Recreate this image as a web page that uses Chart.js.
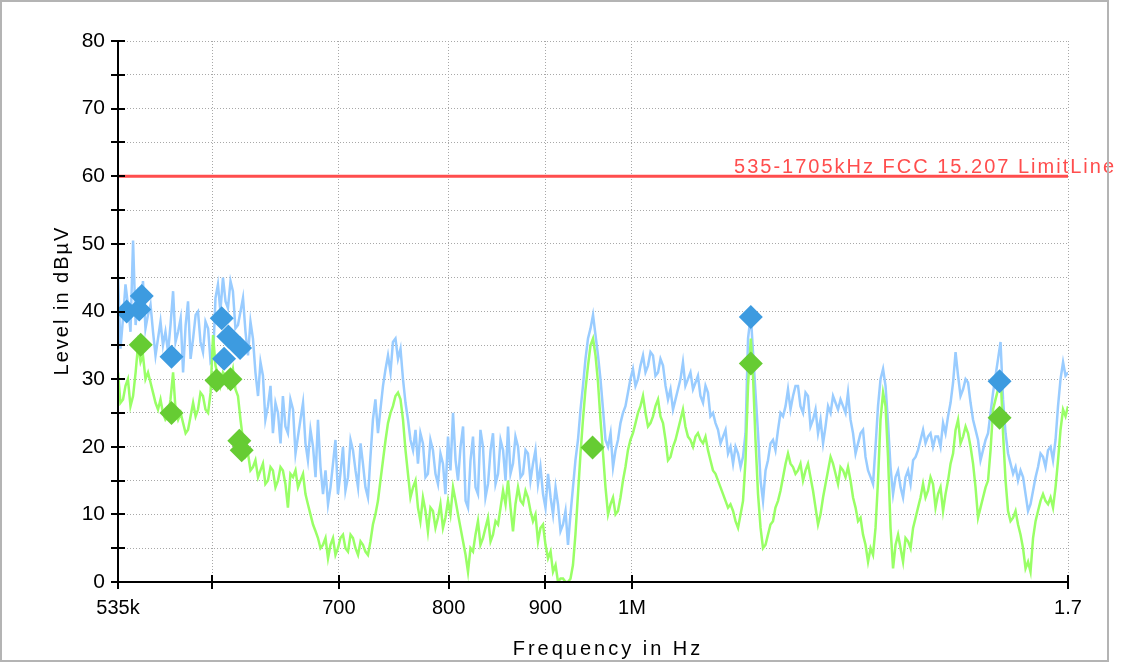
<!DOCTYPE html>
<html>
<head>
<meta charset="utf-8">
<title>Conducted emission scan</title>
<script src="https://cdn.jsdelivr.net/npm/chart.js@4.4.1/dist/chart.umd.min.js"></script>
<style>
  html, body { margin: 0; padding: 0; background: #fff; }
  #scan { display: block; width: 1121px; height: 664px; }
</style>
</head>
<body>
<canvas id="scan" width="1121" height="664"></canvas>
<script>
// sweep frequencies in kHz
const freqKHz = [
  535.0, 536.6, 538.3, 539.9, 541.5, 543.2, 544.9, 546.6, 548.2, 549.9, 551.5, 553.2, 554.9, 556.6, 558.3, 560.0, 561.7, 563.4, 565.1, 566.8,
  568.6, 570.3, 572.1, 573.8, 575.6, 577.4, 579.1, 580.9, 582.6, 584.4, 586.2, 588.0, 589.7, 591.5, 593.3, 595.1, 597.0, 598.8, 600.6, 602.4,
  604.2, 606.0, 607.9, 609.8, 611.6, 613.5, 615.3, 617.2, 619.1, 621.0, 622.9, 624.8, 626.7, 628.6, 630.5, 632.4, 634.4, 636.3, 638.2, 640.1,
  642.1, 644.1, 646.0, 648.0, 650.0, 652.0, 653.9, 655.9, 657.9, 659.9, 662.0, 664.0, 666.0, 668.0, 670.1, 672.1, 674.1, 676.2, 678.3, 680.4,
  682.4, 684.5, 686.6, 688.7, 690.8, 692.9, 695.0, 697.1, 699.2, 701.3, 703.5, 705.6, 707.8, 710.0, 712.1, 714.3, 716.5, 718.7, 720.8, 723.0,
  725.2, 727.4, 729.6, 731.8, 734.1, 736.3, 738.6, 740.9, 743.1, 745.4, 747.6, 749.9, 752.2, 754.5, 756.8, 759.1, 761.4, 763.7, 766.1, 768.4,
  770.7, 773.0, 775.4, 777.8, 780.1, 782.5, 784.9, 787.3, 789.7, 792.1, 794.5, 796.9, 799.4, 801.8, 804.3, 806.8, 809.2, 811.7, 814.2, 816.7,
  819.1, 821.6, 824.1, 826.6, 829.1, 831.6, 834.2, 836.7, 839.3, 841.9, 844.4, 847.0, 849.6, 852.2, 854.8, 857.4, 860.0, 862.6, 865.2, 867.8,
  870.5, 873.2, 875.8, 878.5, 881.1, 883.8, 886.5, 889.2, 891.9, 894.6, 897.4, 900.1, 902.9, 905.7, 908.4, 911.2, 913.9, 916.7, 919.5, 922.3,
  925.1, 927.9, 930.7, 933.5, 936.4, 939.3, 942.1, 945.0, 947.9, 950.8, 953.7, 956.6, 959.5, 962.4, 965.4, 968.3, 971.3, 974.3, 977.2, 980.2,
  983.1, 986.1, 989.1, 992.1, 995.1, 998.1, 1001.2, 1004.3, 1007.3, 1010.4, 1013.5, 1016.6, 1019.7, 1022.8, 1025.9, 1029.0, 1032.2, 1035.3, 1038.5, 1041.7,
  1044.8, 1048.0, 1051.2, 1054.4, 1057.6, 1060.8, 1064.0, 1067.2, 1070.5, 1073.8, 1077.1, 1080.4, 1083.6, 1086.9, 1090.3, 1093.6, 1096.9, 1100.2, 1103.6, 1107.0,
  1110.4, 1113.8, 1117.2, 1120.6, 1124.0, 1127.4, 1130.9, 1134.3, 1137.8, 1141.3, 1144.7, 1148.2, 1151.7, 1155.6, 1158.7, 1162.2, 1165.8, 1169.4, 1172.9, 1176.5,
  1180.0, 1183.6, 1187.2, 1190.8, 1194.5, 1198.1, 1201.8, 1205.5, 1209.1, 1212.8, 1216.5, 1220.2, 1223.9, 1227.6, 1231.4, 1235.2, 1238.9, 1242.7, 1246.5, 1250.3,
  1254.1, 1257.9, 1261.8, 1265.6, 1269.5, 1273.4, 1277.2, 1281.1, 1285.0, 1288.9, 1292.9, 1296.8, 1300.7, 1304.7, 1308.7, 1312.7, 1316.7, 1320.7, 1324.7, 1328.7,
  1332.8, 1336.9, 1340.9, 1345.0, 1349.1, 1353.2, 1357.4, 1361.5, 1365.6, 1369.8, 1374.0, 1378.2, 1382.4, 1386.6, 1390.8, 1395.0, 1399.3, 1403.6, 1407.9, 1412.2,
  1416.4, 1420.7, 1425.1, 1429.4, 1433.7, 1438.1, 1442.5, 1446.9, 1451.3, 1455.7, 1460.2, 1464.6, 1469.1, 1473.6, 1478.1, 1482.6, 1487.1, 1491.6, 1496.2, 1500.8,
  1505.3, 1509.9, 1514.5, 1519.1, 1523.7, 1528.3, 1533.0, 1537.7, 1542.4, 1547.1, 1551.8, 1556.5, 1561.3, 1566.0, 1570.8, 1575.6, 1580.4, 1585.2, 1590.1, 1594.9,
  1599.7, 1604.6, 1609.5, 1614.4, 1619.3, 1624.2, 1629.2, 1634.2, 1639.1, 1644.1, 1649.1, 1654.1, 1659.2, 1664.3, 1669.3, 1674.4, 1679.5, 1684.6, 1689.8, 1694.9,
  1700.0
];

// peak detector trace, dBuV
const peakLevel = [
  45.5, 34.5, 39.0, 44.0, 41.0, 37.0, 50.5, 38.0, 42.0, 39.0, 44.5, 37.5, 39.5, 41.0, 37.0, 33.5, 36.0, 38.5, 35.0, 37.0,
  34.0, 38.0, 43.0, 35.5, 37.0, 39.0, 31.0, 38.0, 41.5, 33.0, 36.0, 39.5, 40.0, 35.5, 34.0, 38.5, 37.5, 32.5, 33.0, 42.0,
  44.0, 40.0, 45.0, 41.5, 40.5, 44.5, 43.0, 37.5, 38.0, 40.0, 42.0, 37.0, 33.5, 38.5, 36.0, 31.0, 27.5, 32.5, 30.5, 24.0,
  26.0, 29.0, 22.0, 26.5, 25.0, 20.5, 27.5, 23.0, 22.0, 27.0, 25.5, 19.0, 21.5, 24.0, 26.5, 20.5, 18.0, 22.5, 20.0, 15.5,
  24.0, 17.0, 13.0, 16.5, 11.5, 14.0, 17.5, 21.0, 13.0, 16.0, 20.0, 13.5, 15.5, 21.0, 19.5, 16.5, 14.0, 20.5, 17.5, 14.0,
  12.5, 18.5, 24.0, 27.0, 22.0, 25.5, 29.0, 31.5, 33.5, 31.0, 35.5, 36.0, 33.0, 34.5, 30.0, 26.5, 24.0, 21.0, 19.5, 22.5,
  17.5, 22.0, 20.5, 15.5, 16.0, 21.0, 19.5, 16.0, 14.5, 19.0, 17.5, 13.0, 21.5, 16.5, 25.0, 18.0, 15.0, 20.0, 23.0, 12.0,
  11.0, 18.0, 21.5, 14.0, 13.0, 22.5, 20.0, 12.5, 14.5, 19.5, 22.0, 14.5, 16.0, 21.0, 19.5, 15.0, 23.0, 16.0, 17.5, 21.5,
  20.0, 15.5, 16.0, 19.5, 19.0, 15.0, 17.5, 19.5, 14.5, 17.0, 13.0, 11.0, 16.0, 12.5, 10.0, 14.0, 11.5, 7.5, 8.5, 10.5,
  5.5, 10.0, 14.0, 18.0, 21.0, 25.5, 29.0, 33.0, 36.0, 37.5, 39.5, 36.5, 33.5, 30.0, 25.5, 21.0, 20.0, 22.0, 17.0, 19.5,
  21.0, 23.5, 25.0, 26.0, 28.0, 30.0, 31.5, 29.0, 30.0, 32.0, 33.5, 31.0, 32.0, 34.0, 33.5, 30.5, 31.0, 33.0, 32.0, 29.0,
  27.0, 28.5, 25.5, 27.0, 28.5, 30.0, 32.5, 29.0, 30.0, 31.0, 28.5, 29.5, 30.5, 27.5, 26.5, 29.0, 28.0, 24.5, 25.0, 23.5,
  22.5, 20.5, 21.5, 22.5, 19.0, 20.0, 17.5, 20.0, 19.0, 17.0, 18.5, 22.0, 36.0, 39.5, 34.0, 28.0, 22.0, 15.0, 12.0, 16.5,
  18.0, 20.5, 21.0, 19.5, 22.5, 25.0, 24.5, 26.0, 28.5, 25.5, 27.5, 29.0, 29.0, 26.0, 25.0, 28.0, 27.5, 23.0, 24.0, 25.5,
  22.0, 24.0, 20.5, 23.0, 26.0, 25.0, 27.5, 26.5, 25.5, 27.0, 26.0, 25.0, 28.0, 24.0, 22.0, 19.0, 20.5, 22.0, 22.5, 18.5,
  16.5, 15.5, 14.5, 20.0, 26.0, 30.0, 31.5, 29.0, 23.5, 17.0, 13.0, 15.5, 16.5, 14.0, 12.5, 15.5, 16.5, 14.5, 18.0, 18.5,
  19.5, 21.0, 22.5, 20.5, 21.5, 22.0, 20.0, 21.5, 21.5, 20.0, 23.5, 22.0, 24.5, 26.5, 29.5, 34.0, 30.5, 27.5, 28.5, 30.0,
  29.5, 26.5, 24.0, 22.5, 21.0, 18.0, 19.5, 21.0, 22.0, 25.0, 28.0, 30.5, 33.0, 35.5, 27.0, 22.0, 19.0, 17.5, 16.0, 17.0,
  15.0, 16.5, 15.5, 13.0, 10.5, 11.5, 13.5, 15.5, 17.0, 19.0, 18.5, 17.0, 19.5, 20.0, 18.0, 21.0, 26.0, 30.0, 32.5, 30.5,
  31.0
];

// average detector trace, dBuV
const avgLevel = [
  31.0, 26.5, 27.0, 29.0, 30.0, 26.0, 27.5, 31.0, 35.0, 32.5, 33.5, 30.0, 31.0, 29.5, 28.0, 26.5, 25.5, 27.0, 25.0, 24.0,
  24.5, 27.0, 31.0, 25.5, 24.0, 25.0, 23.5, 22.0, 22.5, 24.5, 26.5, 24.5, 25.5, 28.0, 27.5, 25.5, 25.0, 28.0, 36.5, 32.0,
  30.5, 29.0, 31.0, 30.5, 29.0, 30.0, 31.5, 28.5, 27.5, 24.0, 21.0, 18.5, 19.0, 16.5, 17.0, 18.0, 15.5, 16.5, 17.5, 14.5,
  15.0, 17.0, 16.5, 14.0, 15.0, 17.0, 16.5, 14.5, 11.0, 16.0, 15.5, 16.5, 14.0, 15.0, 16.0, 13.0, 11.5, 10.0, 8.5, 7.5,
  6.5, 5.0, 5.5, 6.5, 3.5, 5.5, 6.5, 4.0, 5.0, 6.5, 7.0, 5.0, 4.5, 7.0, 6.5, 5.0, 4.0, 6.0, 5.5, 4.5,
  4.0, 6.0, 8.5, 10.0, 12.0, 15.0, 18.0, 21.0, 23.5, 25.0, 26.0, 27.5, 28.0, 27.0, 24.0, 19.5, 16.0, 12.5, 14.0, 15.0,
  11.0, 9.0, 12.5, 10.5, 7.5, 11.0, 10.5, 8.0, 9.5, 11.5, 8.0, 9.5, 12.0, 10.0, 14.0, 12.0, 10.0, 8.0, 6.0, 4.0,
  1.5, 5.0, 4.5, 7.0, 9.0, 5.5, 6.5, 8.0, 9.5, 6.0, 7.0, 9.0, 8.5, 11.0, 13.5, 11.5, 15.0, 11.0, 7.5, 11.5,
  14.0, 12.0, 11.5, 13.5, 12.5, 10.5, 9.0, 10.0, 6.0, 8.0, 8.5, 5.5, 3.5, 4.5, 1.5, 2.5, 0.0, 0.5, 0.5, 0.0,
  0.0, 0.5, 2.5, 7.0, 13.0, 19.0, 24.0, 28.5, 32.0, 35.0, 36.0, 33.5, 29.5, 24.0, 19.0, 14.0, 10.0, 11.5, 12.5, 10.0,
  10.5, 12.5, 15.0, 17.0, 19.5, 21.0, 22.0, 23.5, 25.0, 26.0, 27.5, 25.0, 23.0, 23.5, 24.5, 26.0, 27.0, 24.5, 23.5, 21.0,
  18.0, 18.5, 20.0, 21.0, 22.5, 24.0, 25.5, 23.0, 21.5, 21.0, 20.0, 21.5, 22.0, 21.0, 20.5, 21.5, 19.5, 18.0, 16.5, 16.0,
  15.0, 14.0, 13.0, 12.0, 11.0, 11.5, 10.5, 9.0, 8.0, 10.0, 12.0, 18.0, 29.0, 36.0, 30.5, 21.0, 13.0, 8.0, 5.0, 5.5,
  7.0, 8.5, 9.0, 11.0, 12.0, 13.5, 15.5, 17.5, 19.0, 17.5, 17.0, 16.0, 16.5, 17.5, 15.0, 16.5, 17.5, 15.5, 13.5, 11.0,
  8.5, 10.0, 12.5, 14.5, 16.5, 18.5, 17.5, 16.0, 14.5, 17.0, 16.5, 15.5, 17.0, 15.0, 12.5, 11.0, 9.0, 9.5, 7.0, 5.5,
  3.0, 5.0, 4.0, 8.0, 15.0, 24.0, 28.0, 26.0, 18.5, 8.0, 2.0, 5.5, 7.0, 5.0, 3.0, 6.5, 6.0, 5.0, 8.0, 9.5,
  11.0, 12.5, 14.5, 12.5, 13.5, 15.5, 14.5, 11.0, 13.0, 14.0, 10.5, 13.0, 15.0, 17.5, 19.0, 22.5, 24.0, 20.5, 21.5, 23.0,
  22.0, 20.0, 17.5, 14.0, 9.5, 11.0, 12.5, 14.0, 15.0, 19.5, 25.5, 27.0, 28.5, 31.0, 22.0, 15.0, 10.5, 9.0, 9.5, 10.5,
  8.5, 7.0, 5.0, 2.0, 3.0, 1.5, 6.5, 9.0, 10.5, 12.0, 13.0, 12.0, 11.5, 12.5, 11.0, 14.0, 18.0, 22.5, 25.5, 24.5,
  26.0
];

// final measurement markers
const peakMarkFreq = [540.7, 549.0, 550.7, 571.0, 607.0, 608.7, 611.9, 620.7, 1155.6, 1564.1];
const peakMarkLevel = [40.0, 40.3, 42.3, 33.3, 39.0, 33.0, 36.3, 34.6, 39.2, 29.7];
const avgMarkFreq = [550.0, 571.0, 603.2, 613.5, 620.1, 621.9, 953.2, 1155.6, 1564.1];
const avgMarkLevel = [35.1, 25.0, 29.8, 30.0, 20.9, 19.5, 19.9, 32.3, 24.3];

// FCC 15.207 limit
const limitFreq = [535, 1700];
const limitLevel = [60, 60];
const limitName = '535-1705kHz FCC 15.207 LimitLine';

const xTickValues = [535, 600, 700, 800, 900, 1000, 1700];
const xTickLabels = ['535k', '', '700', '800', '900', '1M', '1.7'];

const toPoints = (xs, ys) => xs.map((f, i) => ({ x: f, y: ys[i] }));

Chart.defaults.font.family = '"Liberation Sans", Arial, sans-serif';
Chart.defaults.color = '#000';

// axis lines, crossing tick marks, titles, limit label and outer frame
const axisDecor = {
  id: 'axisDecor',
  afterDraw(chart) {
    const { ctx, chartArea: a, scales: { x, y } } = chart;
    const left = Math.round(a.left), bottom = Math.round(a.bottom);
    ctx.save();
    ctx.strokeStyle = '#000';
    ctx.lineWidth = 2;
    ctx.beginPath();
    ctx.moveTo(left, Math.round(a.top) - 1);
    ctx.lineTo(left, bottom + 7);
    ctx.moveTo(left - 1, bottom);
    ctx.lineTo(Math.round(a.right), bottom);
    y.ticks.forEach(t => {
      const py = Math.round(y.getPixelForValue(t.value));
      ctx.moveTo(left - 7, py);
      ctx.lineTo(left + 7, py);
    });
    x.ticks.forEach(t => {
      const px = Math.round(x.getPixelForValue(t.value));
      ctx.moveTo(px, bottom - 7);
      ctx.lineTo(px, bottom + 7);
    });
    ctx.stroke();

    ctx.fillStyle = '#000';
    ctx.font = '20px "Liberation Sans", Arial, sans-serif';
    ctx.textBaseline = 'alphabetic';
    ctx.textAlign = 'center';
    ctx.letterSpacing = '3px';
    ctx.fillText('Frequency in Hz', (a.left + a.right) / 2 + 15, 655);

    ctx.save();
    ctx.translate(68, (a.top + a.bottom) / 2 - 11);
    ctx.rotate(-Math.PI / 2);
    ctx.letterSpacing = '2px';
    ctx.fillText('Level in dBµV', 0, 0);
    ctx.restore();

    ctx.fillStyle = '#ff4d4d';
    ctx.textAlign = 'right';
    ctx.letterSpacing = '2px';
    ctx.fillText(limitName, a.right + 48, y.getPixelForValue(limitLevel[0]) - 3);

    ctx.letterSpacing = '0px';
    ctx.strokeStyle = '#b4b4b4';
    ctx.lineWidth = 2;
    ctx.strokeRect(1, 1, 1107, 660);
    ctx.restore();
  }
};

new Chart(document.getElementById('scan'), {
  type: 'scatter',
  data: {
    datasets: [
      {
        label: 'Peak final',
        data: toPoints(peakMarkFreq, peakMarkLevel),
        showLine: false,
        pointStyle: 'rectRot',
        pointRadius: 12,
        backgroundColor: '#3d9be0',
        borderWidth: 0,
        order: 0
      },
      {
        label: 'Average final',
        data: toPoints(avgMarkFreq, avgMarkLevel),
        showLine: false,
        pointStyle: 'rectRot',
        pointRadius: 12,
        backgroundColor: '#66cc33',
        borderWidth: 0,
        order: 1
      },
      {
        label: 'Limit',
        data: toPoints(limitFreq, limitLevel),
        showLine: true,
        borderColor: '#ff4d4d',
        borderWidth: 3,
        pointRadius: 0,
        order: 2
      },
      {
        label: 'Average',
        data: toPoints(freqKHz, avgLevel),
        showLine: true,
        borderColor: '#99ff66',
        borderWidth: 2.5,
        pointRadius: 0,
        tension: 0,
        order: 3
      },
      {
        label: 'Peak',
        data: toPoints(freqKHz, peakLevel),
        showLine: true,
        borderColor: '#99ccff',
        borderWidth: 2.5,
        pointRadius: 0,
        tension: 0,
        order: 4
      }
    ]
  },
  options: {
    responsive: false,
    animation: false,
    events: [],
    layout: { padding: { top: 41, right: 53, bottom: 0, left: 0 } },
    plugins: { legend: { display: false }, tooltip: { enabled: false } },
    scales: {
      x: {
        type: 'logarithmic',
        min: 535,
        max: 1700,
        afterBuildTicks: scale => { scale.ticks = xTickValues.map(v => ({ value: v })); },
        afterFit: scale => { scale.height = 82; },
        ticks: {
          autoSkip: false,
          maxRotation: 0,
          padding: 14,
          font: { size: 20 },
          callback: (v, i) => xTickLabels[i]
        },
        grid: { color: '#a8a8a8', lineWidth: 1, drawTicks: false },
        border: { display: false, dash: [1, 2] }
      },
      y: {
        min: 0,
        max: 80,
        afterFit: scale => { scale.width = 118; },
        ticks: {
          stepSize: 5,
          padding: 13,
          font: { size: 21 },
          callback: v => (v % 10 === 0 ? String(v) : '')
        },
        grid: { color: '#a8a8a8', lineWidth: 1, drawTicks: false },
        border: { display: false, dash: [1, 2] }
      }
    }
  },
  plugins: [axisDecor]
});
</script>
</body>
</html>
